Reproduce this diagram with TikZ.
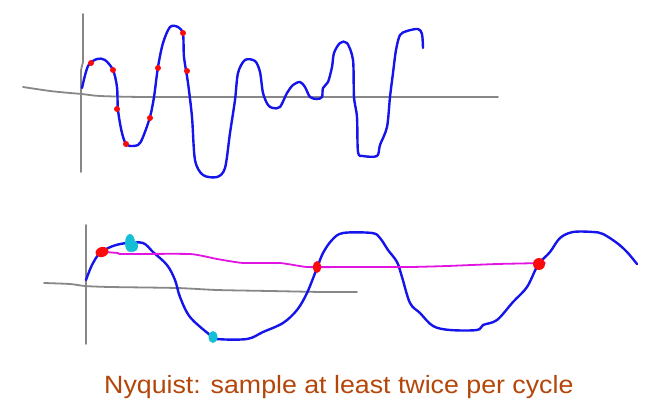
\documentclass[tikz,border=0pt]{standalone}
\usepackage{fontspec}
\setmainfont{Liberation Sans}
\definecolor{penblue}{RGB}{20,20,235}
\definecolor{pengray}{RGB}{135,135,135}
\definecolor{penmag}{RGB}{225,20,225}
\definecolor{penred}{RGB}{250,10,10}
\definecolor{pencyan}{RGB}{20,190,215}
\definecolor{rust}{RGB}{180,70,10}
\begin{document}
\begin{tikzpicture}[x=1pt,y=-1pt,
  axis/.style={pengray,line width=1.8pt,line cap=round,line join=round},
  wave/.style={penblue,line width=2.4pt,line cap=round,line join=round},
  hline/.style={penmag,line width=1.8pt,line cap=round,line join=round},
  rdot/.style={fill=penred},
  cdot/.style={fill=pencyan},
  caption/.style={rust,font=\fontsize{25}{30}\selectfont,inner sep=0pt,anchor=base west}]
\useasboundingbox (0,0) rectangle (664,418);
% ---------- top plot ----------
\draw[axis] (83,14) -- (83,62) -- (81,70) -- (81,172);
\draw[axis] plot[smooth,tension=0.4] coordinates {(23,87) (50,91) (70,93) (82,94) (100,96) (147,97) (300,97) (498,97)};
\draw[wave] plot[smooth,tension=0.5] coordinates {
 (82,88) (88,66) (97,59) (105,60) (113,70) (117,87) (118,110) (122,133) (127,145) (138,145) (143,137)
 (150,117) (154,97) (158,67) (163,43) (170,27) (178,27) (183,34) (184,57) (188,83) (192,117) (195,160)
 (203,175) (217,177) (225,168) (230,133) (235,100) (238,73) (245,60) (255,61) (260,72) (263,93) (268,105)
 (273,108) (280,107) (287,93) (293,85) (300,82) (305,87) (310,97) (317,99) (322,97) (323,88) (328,82)
 (332,67) (334,53) (340,43) (347,43) (353,60) (354,97) (357,117) (358,152) (363,156) (377,156) (380,145)
 (387,127) (390,97) (393,73) (396,50) (400,35) (407,31) (418,29) (422,34) (423,48)};
\foreach \p in {(91,63),(113,70),(117,109),(126,144),(150,118),(158,68),(183,33),(187,71)}
  \fill[rdot] \p circle (3);
% ---------- bottom plot ----------
\draw[axis] (86,225) -- (86,344);
\draw[axis] plot[smooth,tension=0.4] coordinates {(44,283) (70,284) (85,286) (110,287) (177,288) (217,290) (270,291) (323,292) (357,292)};
\draw[wave] plot[smooth,tension=0.55] coordinates {
 (86,280) (92,265) (100,253) (113,246) (127,243) (143,243) (153,252) (167,265) (175,280) (180,297)
 (190,317) (210,335) (217,339) (247,339) (263,332) (283,323) (297,310) (307,293) (317,268) (323,253)
 (332,240) (343,233) (372,233) (380,238) (388,250) (397,262) (402,277) (410,303) (420,313) (433,326)
 (450,330) (477,330) (483,325) (497,320) (513,302) (527,287) (538,265) (550,252) (560,238) (573,232)
 (593,232) (603,234) (617,243) (627,252) (637,264)};
\draw[hline] plot[smooth,tension=0.3] coordinates {
 (105,252) (118,253) (122,254) (190,254) (217,259) (243,263) (280,263) (307,267) (343,267) (347,267)
 (410,267) (447,266) (497,264) (545,263)};
\fill[rdot, rotate around={15:(102,252)}] (102,252) ellipse (6.5 and 5);
\fill[rdot] (317,267) ellipse (4 and 6);
\fill[rdot] (539,264) circle (6);
\fill[cdot] (130,243) ellipse (5 and 9);
\fill[cdot] (133,246) ellipse (5 and 6);
\fill[cdot] (213,337) ellipse (4.5 and 6);
% ---------- caption ----------
\node[caption] (cap) at (104,393) {\scalebox{1.07}[1]{Nyquist: sample at least twice per cycle}};
\end{tikzpicture}
\end{document}
